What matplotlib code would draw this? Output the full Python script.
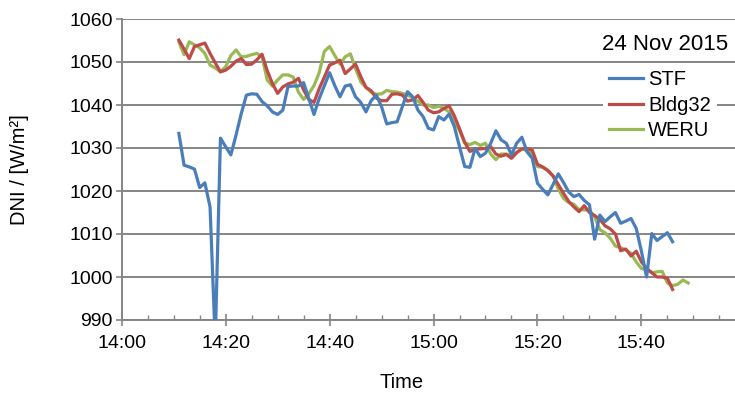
import matplotlib
matplotlib.use("Agg")
import matplotlib.pyplot as plt
from matplotlib.ticker import MultipleLocator, FixedLocator
import numpy as np

plt.rcParams['font.family'] = ['Liberation Sans', 'DejaVu Sans']

# ---- data: minutes after 14:00, 1-minute resolution ----
stf_start = 11
stf = [1033.4, 1026.0, 1025.6, 1025.1, 1020.8, 1021.9, 1016.3, 985.0, 1032.3, 1030.3,
       1028.4, 1033.0, 1038.0, 1042.3, 1042.6, 1042.5, 1040.8, 1039.8, 1038.4, 1037.8,
       1038.8, 1044.3, 1044.4, 1044.4, 1045.2, 1041.5, 1037.8, 1041.5, 1044.5, 1047.5,
       1044.5, 1041.9, 1044.4, 1044.7, 1041.9, 1040.6, 1038.4, 1041.0, 1042.3, 1039.6,
       1035.6, 1035.9, 1036.1, 1039.6, 1043.1, 1041.9, 1038.8, 1037.3, 1034.6, 1034.2,
       1037.3, 1036.5, 1037.9, 1035.0, 1030.3, 1025.7, 1025.5, 1029.9, 1028.0, 1028.8,
       1031.1, 1034.0, 1031.9, 1031.1, 1028.4, 1031.1, 1032.5, 1029.1, 1027.6, 1021.8,
       1020.4, 1019.1, 1021.5, 1024.0, 1022.0, 1019.8, 1018.7, 1019.2, 1017.8, 1016.8,
       1008.8, 1014.4, 1012.9, 1014.0, 1015.0, 1012.5, 1013.0, 1013.6, 1011.3, 1006.0,
       1000.0, 1010.1, 1008.5, 1009.4, 1010.3, 1008.2]

bldg_start = 11
bldg32 = [1055.1, 1053.0, 1050.8, 1053.6, 1054.0, 1054.4, 1052.0, 1049.8, 1047.7, 1048.1,
          1049.0, 1050.2, 1050.8, 1049.4, 1049.5, 1050.5, 1051.8, 1048.0, 1045.0, 1042.7,
          1044.2, 1044.9, 1045.3, 1046.2, 1043.5, 1041.3, 1040.6, 1043.8, 1046.5, 1049.3,
          1049.8, 1050.4, 1047.3, 1048.4, 1049.5, 1046.6, 1044.1, 1043.3, 1041.6, 1041.0,
          1041.0, 1042.5, 1042.6, 1042.3, 1040.9, 1041.2, 1042.2, 1040.6, 1038.8, 1038.2,
          1038.4, 1039.2, 1039.8, 1037.5, 1034.5, 1031.3, 1029.2, 1029.7, 1029.8, 1029.9,
          1030.3, 1028.6, 1028.1, 1028.5, 1027.6, 1028.9, 1029.8, 1029.9, 1029.5, 1026.2,
          1025.6, 1024.8, 1023.5, 1021.5, 1019.5, 1017.6, 1016.3, 1015.2, 1016.6, 1015.0,
          1014.3, 1013.4, 1011.9, 1011.2, 1010.0, 1006.1, 1006.5, 1004.9, 1006.0, 1003.5,
          1002.0, 1001.0, 1000.0, 1000.0, 999.7, 997.1]

weru_start = 11
weru = [1054.7, 1051.7, 1054.7, 1054.0, 1053.3, 1052.0, 1049.3, 1048.6, 1047.7, 1048.9,
        1051.5, 1052.8, 1051.2, 1051.3, 1051.7, 1052.0, 1051.3, 1045.8, 1044.4, 1045.8,
        1047.0, 1047.0, 1046.5, 1043.0, 1041.3, 1042.6, 1044.5, 1047.5, 1052.5, 1053.6,
        1051.5, 1049.5, 1051.2, 1051.9, 1048.5, 1045.4, 1044.1, 1043.0, 1042.5, 1042.6,
        1043.4, 1043.1, 1043.0, 1042.7, 1042.4, 1041.6, 1040.9, 1040.0, 1040.0, 1039.4,
        1039.7, 1039.2, 1038.4, 1036.4, 1034.0, 1031.2, 1030.8, 1031.3, 1030.6, 1031.1,
        1028.6, 1027.3, 1028.6, 1028.6, 1028.1, 1029.0, 1029.9, 1029.3, 1028.8, 1025.7,
        1025.5, 1024.7, 1023.5, 1020.5, 1018.3, 1017.3, 1016.9, 1015.7, 1015.6, 1015.6,
        1014.0, 1011.0, 1010.3, 1009.0, 1007.2, 1006.8, 1006.3, 1005.5, 1003.5, 1002.0,
        1001.7, 1001.0, 1001.2, 1001.3, 998.6, 998.0, 998.3, 999.3, 998.6]

series_names = ["STF", "Bldg32", "WERU"]
series_colors = ["#4A7EBB", "#BE4B48", "#98B954"]
xtick_pos = [0, 20, 40, 60, 80, 100]
xtick_labels = ["14:00", "14:20", "14:40", "15:00", "15:20", "15:40"]
yticks = [990, 1000, 1010, 1020, 1030, 1040, 1050, 1060]
date_label = "24 Nov 2015"

W, H = 735, 394
fig = plt.figure(figsize=(W / 100, H / 100), dpi=100)
ax = fig.add_axes([121.7 / W, 1 - 320 / H, (736 - 121.7) / W, (320 - 19) / H])

grey = "#858585"
lw = 2.3
t_stf = np.arange(len(stf)) + stf_start
t_b = np.arange(len(bldg32)) + bldg_start
t_w = np.arange(len(weru)) + weru_start
hg, = ax.plot(t_w, weru, color=series_colors[2], lw=lw, solid_joinstyle='round', zorder=3)
hr, = ax.plot(t_b, bldg32, color=series_colors[1], lw=lw, solid_joinstyle='round', zorder=4)
hb, = ax.plot(t_stf, stf, color=series_colors[0], lw=lw, solid_joinstyle='round', zorder=5)

ax.set_xlim(0, 118.2)
ax.set_ylim(990, 1060)
ax.xaxis.set_major_locator(FixedLocator(xtick_pos))
ax.set_xticklabels(xtick_labels)
ax.xaxis.set_minor_locator(MultipleLocator(5))
ax.set_yticks(yticks)

ax.yaxis.grid(True, color=grey, lw=1.4)
ax.set_axisbelow(True)
for s in ["top", "right"]:
    ax.spines[s].set_visible(False)
for s in ["left", "bottom"]:
    ax.spines[s].set_color(grey)
    ax.spines[s].set_linewidth(1.4)

ax.tick_params(axis='y', which='major', direction='out', length=4.5, width=1.2,
               color=grey, pad=2, labelsize=14)
ax.tick_params(axis='x', which='major', direction='inout', length=9, width=1.2,
               color=grey, pad=6.5, labelsize=14)
ax.tick_params(axis='x', which='minor', direction='in', length=3.5, width=1.0, color=grey)

leg = ax.legend([hb, hr, hg], series_names, loc='upper left',
                bbox_to_anchor=(603 / W, 1 - 64 / H), bbox_transform=fig.transFigure,
                frameon=True, facecolor='white', edgecolor='none', framealpha=1,
                fancybox=False, fontsize=14.5, handlelength=1.7, handletextpad=0.25,
                labelspacing=0.33, borderpad=0.3, borderaxespad=0)
leg.set_zorder(10)

fig.text(728 / W, 1 - 44 / H, date_label, ha='right', va='center', fontsize=16)
fig.text(402 / W, 1 - 383 / H, "Time", ha='center', va='center', fontsize=14.5)
fig.text(20 / W, 1 - 170 / H, "DNI / [W/m²]", rotation=90, ha='center', va='center',
         fontsize=14.5)

fig.savefig("out.png", dpi=100)
